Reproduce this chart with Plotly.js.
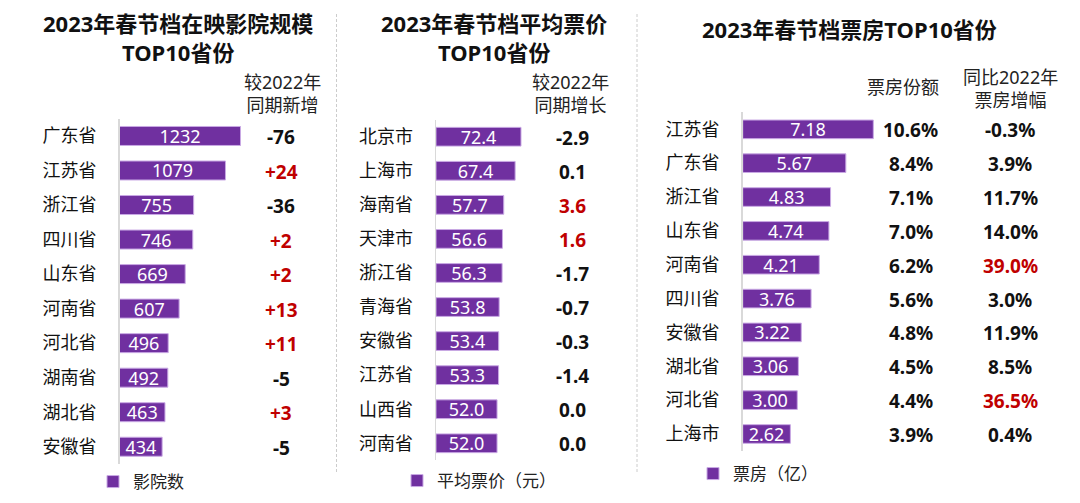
<!DOCTYPE html>
<html>
<head>
<meta charset="utf-8">
<script src="https://cdn.plot.ly/plotly-3.0.1.min.js"></script>
<style>
  html, body { margin: 0; padding: 0; background: #ffffff; }
  #chart { width: 1080px; height: 503px; }
</style>
</head>
<body>
<div id="chart"></div>
<script>
// ---- 数据 ----
// 在映影院规模 TOP10
const cinemaProvinces = ['广东省', '江苏省', '浙江省', '四川省', '山东省', '河南省', '河北省', '湖南省', '湖北省', '安徽省'];
const cinemaCounts    = [1232, 1079, 755, 746, 669, 607, 496, 492, 463, 434];
const cinemaChange    = [-76, 24, -36, 2, 2, 13, 11, -5, 3, -5];

// 平均票价 TOP10
const priceProvinces  = ['北京市', '上海市', '海南省', '天津市', '浙江省', '青海省', '安徽省', '江苏省', '山西省', '河南省'];
const avgPrices       = [72.4, 67.4, 57.7, 56.6, 56.3, 53.8, 53.4, 53.3, 52.0, 52.0];
const priceChange     = [-2.9, 0.1, 3.6, 1.6, -1.7, -0.7, -0.3, -1.4, 0.0, 0.0];

// 票房 TOP10
const boxProvinces    = ['江苏省', '广东省', '浙江省', '山东省', '河南省', '四川省', '安徽省', '湖北省', '河北省', '上海市'];
const boxOffice       = [7.18, 5.67, 4.83, 4.74, 4.21, 3.76, 3.22, 3.06, 3.00, 2.62];
const boxShare        = [10.6, 8.4, 7.1, 7.0, 6.2, 5.6, 4.8, 4.5, 4.4, 3.9];
const boxGrowth       = [-0.3, 3.9, 11.7, 14.0, 39.0, 3.0, 11.9, 8.5, 36.5, 0.4];

// ---- 样式 ----
const W = 1080, H = 503;
const FONT = 'Noto Sans, Noto Sans CJK SC, sans-serif';
const PURPLE = '#7030A0';
const RED = '#C00000';
const INK = '#111111';
const px = v => v / W;          // 横向像素 -> paper
const py = v => 1 - v / H;      // 纵向像素 -> paper

// 每个面板：条形起点、每单位像素数、绘图区宽度、上下边界
const panels = [
  { x0: 119.5, ppu: 121 / 1232, span: 210, top: 118.7, bottom: 464.0 },
  { x0: 436.0, ppu: 85 / 72.4,  span: 194, top: 119.7, bottom: 460.3 },
  { x0: 742.7, ppu: 130.6 / 7.18, span: 330, top: 112.4, bottom: 450.9 }
];

function xAxis(p, anchor) {
  return {
    domain: [px(p.x0), px(p.x0 + p.span)],
    range: [0, p.span / p.ppu],
    showgrid: false, zeroline: false, showline: false,
    showticklabels: false, ticks: '', fixedrange: true, anchor: anchor
  };
}
function yAxis(p, anchor) {
  return {
    domain: [py(p.bottom), py(p.top)],
    type: 'category',
    autorange: 'reversed',
    showgrid: false, zeroline: false,
    showline: true, linecolor: '#d9d9d9', linewidth: 1.5,
    ticks: '', ticklabelstandoff: 18,
    tickfont: { family: FONT, size: 18, color: INK },
    fixedrange: true, anchor: anchor
  };
}

function barTrace(name, xs, ys, fmt, xa, ya, legend) {
  return {
    type: 'bar', orientation: 'h', name: name,
    x: xs, y: ys, xaxis: xa, yaxis: ya, legend: legend,
    width: 0.55,
    marker: { color: PURPLE, line: { color: '#c9a9e4', width: 1 } },
    text: xs.map(fmt),
    textposition: 'inside', insidetextanchor: 'middle',
    constraintext: 'none',
    textfont: { family: FONT, size: 18, color: '#ffffff' },
    hoverinfo: 'skip', showlegend: true
  };
}

const traces = [
  barTrace('影院数', cinemaCounts, cinemaProvinces, v => String(v), 'x', 'y', 'legend'),
  barTrace('平均票价（元）', avgPrices, priceProvinces, v => v.toFixed(1), 'x2', 'y2', 'legend2'),
  barTrace('票房（亿）', boxOffice, boxProvinces, v => v.toFixed(2), 'x3', 'y3', 'legend3')
];

const annotations = [];
function txt(text, x, y, size, color) {
  annotations.push({
    text: text, x: x, y: y, xref: 'paper', yref: 'paper',
    xanchor: 'center', yanchor: 'middle', showarrow: false,
    font: { family: FONT, size: size, color: color || INK }
  });
}

// 标题
txt('<b>2023年春节档在映影院规模<br>TOP10省份</b>', px(178), py(38), 22);
txt('<b>2023年春节档平均票价<br>TOP10省份</b>', px(494), py(38), 22);
txt('<b>2023年春节档票房TOP10省份</b>', px(849), py(29), 22);

// 列标题
txt('较2022年<br>同期新增', px(282), py(93), 18, '#222222');
txt('较2022年<br>同期增长', px(570), py(93), 18, '#222222');
txt('票房份额', px(903), py(87), 18, '#222222');
txt('同比2022年<br>票房增幅', px(1010), py(88.5), 18, '#222222');

// 数值列（按类别对齐到各自的纵轴）
function column(labels, values, fmt, isRed, xCenter, yref) {
  labels.forEach((cat, i) => {
    annotations.push({
      text: '<b>' + fmt(values[i]) + '</b>',
      x: px(xCenter), xref: 'paper', y: cat, yref: yref,
      xanchor: 'center', yanchor: 'middle', showarrow: false, yshift: -1,
      font: { family: FONT, size: 19, color: isRed(values[i]) ? RED : INK }
    });
  });
}
column(cinemaProvinces, cinemaChange, v => (v > 0 ? '+' : '') + v, v => v > 0, 281, 'y');
column(priceProvinces, priceChange, v => v.toFixed(1), v => v >= 1, 572, 'y2');
column(boxProvinces, boxShare, v => v.toFixed(1) + '%', v => false, 910.5, 'y3');
column(boxProvinces, boxGrowth, v => v.toFixed(1) + '%', v => v >= 30, 1010, 'y3');

// 面板之间的虚线分隔
const shapes = [336.5, 637].map(x => ({
  type: 'line', xref: 'paper', yref: 'paper',
  x0: px(x), x1: px(x), y0: py(14), y1: py(472),
  line: { color: '#cccccc', width: 1, dash: '3px,2px' }
}));

function legendAt(x, y) {
  return {
    x: px(x), y: py(y), xanchor: 'left', yanchor: 'middle',
    bgcolor: 'rgba(0,0,0,0)', borderwidth: 0, itemwidth: 30,
    font: { family: FONT, size: 17, color: '#222222' },
    itemclick: false, itemdoubleclick: false
  };
}

const layout = {
  width: W, height: H,
  margin: { l: 0, r: 0, t: 0, b: 0 },
  paper_bgcolor: '#ffffff', plot_bgcolor: '#ffffff',
  showlegend: true,
  bargap: 0.45,
  xaxis: xAxis(panels[0], 'y'),   yaxis: yAxis(panels[0], 'x'),
  xaxis2: xAxis(panels[1], 'y2'), yaxis2: yAxis(panels[1], 'x2'),
  xaxis3: xAxis(panels[2], 'y3'), yaxis3: yAxis(panels[2], 'x3'),
  legend: legendAt(93, 482),
  legend2: legendAt(397, 481),
  legend3: legendAt(693, 474),
  annotations: annotations,
  shapes: shapes,
  font: { family: FONT }
};

Plotly.newPlot('chart', traces, layout, { displayModeBar: false, staticPlot: true });
</script>
</body>
</html>
